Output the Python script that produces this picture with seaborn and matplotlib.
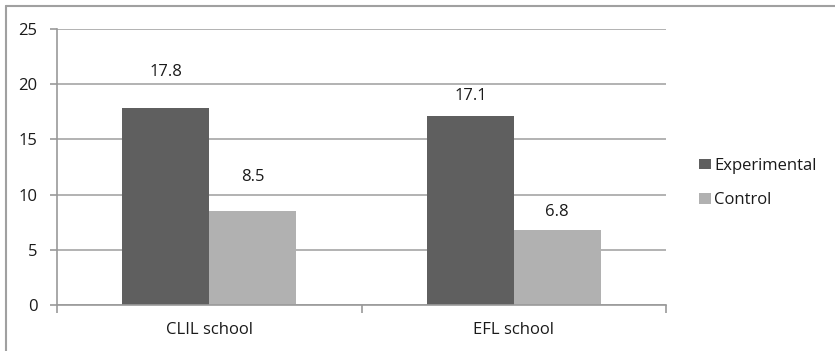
import matplotlib
matplotlib.use("Agg")
import matplotlib.pyplot as plt
import seaborn as sns
import pandas as pd
from matplotlib.lines import Line2D

categories = ["CLIL school", "EFL school"]
groups = ["Experimental", "Control"]
experimental = [17.8, 17.1]
control = [8.5, 6.8]
yticks = [0, 5, 10, 15, 20, 25]

# styling: label centre offsets above bar tops (points), as placed in the original
label_offsets = {"Experimental": [26, 14.5], "Control": [24.5, 13]}

df = pd.DataFrame({
    "school": categories * 2,
    "group": ["Experimental"] * len(categories) + ["Control"] * len(categories),
    "score": experimental + control,
})

sns.set_theme(style="white")
plt.rcParams["font.family"] = ["Open Sans", "DejaVu Sans"]
FS = 12

fig = plt.figure(figsize=(8.35, 3.51), dpi=100)
ax = fig.add_axes([57 / 835, 1 - 305 / 351, (666 - 57) / 835, (305 - 29) / 351])

palette = {"Experimental": "#5f5f5f", "Control": "#b1b1b1"}
sns.barplot(data=df, x="school", y="score", hue="group", order=categories,
            hue_order=groups, palette=palette, width=0.57, ax=ax,
            saturation=1, linewidth=0, legend=True)

ax.set_ylim(0, 25)
ax.set_xlim(-0.5, 1.5)
ax.set_yticks(yticks)
ax.set_yticklabels([str(t) for t in yticks])
ax.yaxis.grid(True, color="#a6a6a6", linewidth=1.2)
ax.set_axisbelow(True)
ax.set_xlabel("")
ax.set_ylabel("")

for s in ["top", "right"]:
    ax.spines[s].set_visible(False)
for s in ["left", "bottom"]:
    ax.spines[s].set_color("#999999")
    ax.spines[s].set_linewidth(1.2)

ax.tick_params(axis="y", which="major", left=True, length=5, width=1.2,
               color="#999999", labelsize=FS, labelcolor="#1a1a1a", pad=9)
ax.tick_params(axis="x", which="major", length=0, labelsize=FS,
               labelcolor="#1a1a1a", pad=12)
ax.set_xticks([-0.5, 0.5, 1.5], minor=True)
ax.tick_params(axis="x", which="minor", bottom=True, length=6, width=1.2,
               color="#999999")

for container, g in zip(ax.containers, groups):
    for bar, val, off in zip(container, container.datavalues, label_offsets[g]):
        ax.annotate(f"{val:.1f}", (bar.get_x() + bar.get_width() / 2, bar.get_height()),
                    xytext=(0, off), textcoords="offset points",
                    ha="center", va="center", fontsize=FS, color="#1a1a1a")

leg = ax.legend(loc="center left", bbox_to_anchor=(1.03, 0.442), frameon=False,
                fontsize=FS, handlelength=0.7, handleheight=0.6,
                handletextpad=0.2, labelspacing=1.1)
for t in leg.get_texts():
    t.set_color("#1a1a1a")

fig.add_artist(Line2D([6 / 835, 1], [1 - 6 / 351, 1 - 6 / 351], color="#a0a0a0",
                      linewidth=1.5, transform=fig.transFigure))
fig.add_artist(Line2D([6 / 835, 6 / 835], [0, 1 - 6 / 351], color="#a0a0a0",
                      linewidth=1.5, transform=fig.transFigure))

fig.savefig("out.png", dpi=100, facecolor="white")
